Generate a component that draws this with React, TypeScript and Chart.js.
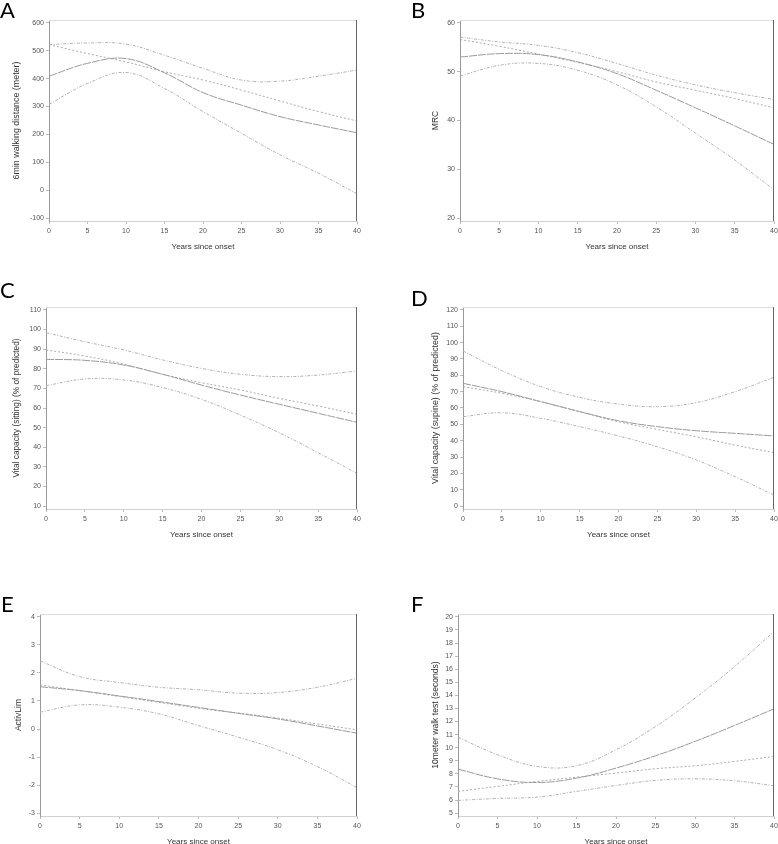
import React, { useEffect, useRef } from "react";
import { Chart, registerables } from "chart.js";
Chart.register(...registerables);

// ---------- data ----------
const years = [0, 5, 10, 15, 20, 25, 30, 35, 40];
const xTicks = [0, 5, 10, 15, 20, 25, 30, 35, 40];

// A: 6min walking distance
const aMain = [409, 455, 472, 421, 350, 305, 264, 234, 206];
const aLinear = [522, 490, 460, 425, 395, 359, 320, 282, 248];
const aUpper = [522, 528, 524, 484, 437, 395, 391, 409, 431];
const aLower = [308, 383, 422, 365, 282, 204, 127, 61, -13];
const aTicks = [-100, 0, 100, 200, 300, 400, 500, 600];

// B: MRC
const bMain = [53.0, 53.7, 53.5, 52.0, 49.6, 46.2, 42.6, 38.9, 35.1];
const bLinear = [56.6, 55.2, 53.6, 51.9, 50.0, 47.9, 46.2, 44.5, 42.6];
const bUpper = [57.1, 56.1, 55.4, 53.9, 51.7, 49.3, 47.3, 45.7, 44.3];
const bLower = [49.1, 51.3, 51.7, 50.3, 47.3, 42.8, 37.4, 31.9, 25.8];
const bTicks = [20, 30, 40, 50, 60];

// C: Vital capacity sitting
const cMain = [84.8, 84.3, 81.9, 77.2, 71.7, 66.6, 61.9, 57.3, 52.7];
const cLinear = [89.6, 86.5, 82.4, 77.2, 72.9, 69.2, 64.9, 61.0, 56.8];
const cUpper = [98.4, 93.8, 89.6, 84.5, 80.2, 77.2, 76.0, 76.8, 78.9];
const cLower = [71.4, 74.8, 74.3, 70.4, 64.4, 56.4, 47.4, 37.2, 26.7];
const cTicks = [10, 20, 30, 40, 50, 60, 70, 80, 90, 100, 110];

// D: Vital capacity supine
const dMain = [75.1, 70.0, 63.9, 57.8, 52.2, 48.6, 46.1, 44.5, 42.9];
const dLinear = [73.1, 69.0, 63.9, 57.8, 51.6, 46.9, 42.4, 37.3, 32.7];
const dUpper = [94.9, 82.9, 73.1, 66.5, 62.4, 60.8, 63.3, 70.0, 78.8];
const dLower = [54.7, 57.1, 53.7, 48.6, 42.9, 36.3, 28.2, 18.0, 6.7];
const dTicks = [0, 10, 20, 30, 40, 50, 60, 70, 80, 90, 100, 110, 120];

// E: ActivLim
const eMain = [1.51, 1.37, 1.18, 0.98, 0.77, 0.56, 0.36, 0.11, -0.15];
const eLinear = [1.57, 1.37, 1.16, 0.95, 0.74, 0.57, 0.39, 0.18, -0.03];
const eUpper = [2.43, 1.87, 1.66, 1.49, 1.4, 1.28, 1.3, 1.49, 1.81];
const eLower = [0.6, 0.86, 0.78, 0.54, 0.12, -0.29, -0.74, -1.34, -2.09];
const eTicks = [-3, -2, -1, 0, 1, 2, 3, 4];

// F: 10meter walk test
const fMain = [8.36, 7.62, 7.34, 7.67, 8.44, 9.38, 10.48, 11.7, 12.97];
const fLinear = [6.66, 7.04, 7.42, 7.75, 8.06, 8.39, 8.62, 8.95, 9.33];
const fUpper = [10.8, 9.46, 8.57, 8.62, 9.84, 11.62, 13.79, 16.2, 18.88];
const fLower = [5.97, 6.12, 6.22, 6.66, 7.11, 7.5, 7.62, 7.47, 7.09];
const fTicks = [5, 6, 7, 8, 9, 10, 11, 12, 13, 14, 15, 16, 17, 18, 19, 20];

const xTitle = "Years since onset";

type PanelCfg = {
  letter: string;
  letterPos: [number, number];
  box: [number, number, number, number];
  area: [number, number, number, number];
  yTitle: string;
  yTitleX: number;
  yTitleSize: number;
  yTicks: number[];
  series: number[][]; // main, linear, upper, lower
};

const panels: PanelCfg[] = [
  { letter: "A", letterPos: [0, -1], box: [0, 0, 389, 280], area: [49, 20, 357, 221], yTitle: "6min walking distance (meter)", yTitleX: 17, yTitleSize: 8.9, yTicks: aTicks, series: [aMain, aLinear, aUpper, aLower] },
  { letter: "B", letterPos: [411, -1], box: [389, 0, 389, 280], area: [460, 20, 774, 221], yTitle: "MRC", yTitleX: 436, yTitleSize: 8.5, yTicks: bTicks, series: [bMain, bLinear, bUpper, bLower] },
  { letter: "C", letterPos: [0, 279], box: [0, 280, 389, 280], area: [46, 307, 357, 509], yTitle: "Vital capacity (sitting) (% of predicted)", yTitleX: 17, yTitleSize: 8.3, yTicks: cTicks, series: [cMain, cLinear, cUpper, cLower] },
  { letter: "D", letterPos: [411, 287], box: [389, 280, 389, 280], area: [463, 307, 774, 509], yTitle: "Vital capacity (supine) (% of predicted)", yTitleX: 436, yTitleSize: 8.9, yTicks: dTicks, series: [dMain, dLinear, dUpper, dLower] },
  { letter: "E", letterPos: [1, 593], box: [0, 560, 389, 290], area: [40, 614, 357, 816], yTitle: "ActivLim", yTitleX: 19, yTitleSize: 8.5, yTicks: eTicks, series: [eMain, eLinear, eUpper, eLower] },
  { letter: "F", letterPos: [411, 593], box: [389, 560, 389, 290], area: [458, 614, 774, 816], yTitle: "10meter walk test (seconds)", yTitleX: 436, yTitleSize: 8.6, yTicks: fTicks, series: [fMain, fLinear, fUpper, fLower] },
];

const lineStyles = [
  { color: "#9a9a9a", dash: [8, 1] as number[] },
  { color: "#ababab", dash: [2, 2] },
  { color: "#b2b2b2", dash: [3, 1.5, 1, 1.5] },
  { color: "#b2b2b2", dash: [3, 1.5, 1, 1.5] },
];

const FONT = "'Liberation Sans', Arial, sans-serif";

const framePlugin = {
  id: "frame",
  afterDraw(chart: any) {
    const { ctx, chartArea } = chart;
    ctx.save();
    ctx.lineWidth = 1;
    ctx.strokeStyle = "#dddddd";
    ctx.beginPath();
    ctx.moveTo(chartArea.left, chartArea.top + 0.5);
    ctx.lineTo(chartArea.right, chartArea.top + 0.5);
    ctx.stroke();
    ctx.strokeStyle = "#666666";
    ctx.beginPath();
    ctx.moveTo(chartArea.right - 0.5, chartArea.top);
    ctx.lineTo(chartArea.right - 0.5, chartArea.bottom);
    ctx.stroke();
    ctx.restore();
  },
};

function Panel({ p }: { p: PanelCfg }) {
  const ref = useRef<HTMLCanvasElement>(null);
  useEffect(() => {
    const canvas = ref.current!;
    const [bx, by, W, H] = p.box;
    const left = p.area[0] - bx;
    const top = p.area[1] - by;
    const right = p.area[2] - bx;
    const bottom = p.area[3] - by;
    const yLH = p.yTitleSize * 1.2;
    const padLeft = p.yTitleX - bx - yLH / 2;
    const yWidth = left - padLeft;
    const xHeight = 31;
    const padBottom = H - bottom - xHeight;
    const t0 = p.yTicks[0];
    const t1 = p.yTicks[p.yTicks.length - 1];
    const pad = ((t1 - t0) * 2.9) / 195;

    const chart = new Chart(canvas, {
      type: "line",
      data: {
        datasets: p.series.map((s, i) => ({
          data: s.map((v, k) => ({ x: years[k], y: v })),
          borderColor: lineStyles[i].color,
          borderDash: lineStyles[i].dash,
          borderWidth: 1,
          pointRadius: 0,
          tension: 0.4,
          fill: false,
        })),
      },
      options: {
        animation: false,
        responsive: false,
        maintainAspectRatio: false,
        layout: { padding: { left: padLeft, top, right: W - right, bottom: padBottom } },
        plugins: { legend: { display: false }, tooltip: { enabled: false } },
        scales: {
          x: {
            type: "linear",
            min: 0,
            max: 40,
            afterBuildTicks: (a: any) => {
              a.ticks = xTicks.map((v) => ({ value: v }));
            },
            afterFit: (s: any) => {
              s.height = xHeight;
              s.paddingLeft = 0;
              s.paddingRight = 0;
            },
            grid: { drawOnChartArea: false, drawTicks: true, tickLength: 3, color: "#bbbbbb" },
            border: { display: true, color: "#d0d0d0" },
            ticks: { font: { family: FONT, size: 7 }, color: "#555", padding: 3, maxRotation: 0 },
            title: { display: true, text: xTitle, font: { family: FONT, size: 8 }, color: "#333", padding: 0 },
          },
          y: {
            type: "linear",
            min: t0 - pad,
            max: t1 + pad,
            afterBuildTicks: (a: any) => {
              a.ticks = p.yTicks.map((v) => ({ value: v }));
            },
            afterFit: (s: any) => {
              s.width = yWidth;
              s.paddingTop = 0;
              s.paddingBottom = 0;
            },
            grid: { drawOnChartArea: false, drawTicks: true, tickLength: 3, color: "#bbbbbb" },
            border: { display: true, color: "#9a9a9a" },
            ticks: { font: { family: FONT, size: 7 }, color: "#555", padding: 2 },
            title: { display: true, text: p.yTitle, font: { family: FONT, size: p.yTitleSize }, color: "#333", padding: 0 },
          },
        },
      },
      plugins: [framePlugin],
    } as any);
    return () => chart.destroy();
  }, []);

  return (
    <>
      <canvas
        ref={ref}
        width={p.box[2]}
        height={p.box[3]}
        style={{ position: "absolute", left: p.box[0], top: p.box[1], width: p.box[2], height: p.box[3] }}
      />
      <div
        style={{
          position: "absolute",
          left: p.letterPos[0],
          top: p.letterPos[1],
          fontFamily: "Lato, 'Open Sans', sans-serif",
          fontSize: 22,
          lineHeight: "22px",
          color: "#000",
        }}
      >
        {p.letter}
      </div>
    </>
  );
}

export default function App() {
  return (
    <div
      style={{
        position: "absolute",
        left: 0,
        top: 0,
        width: 778,
        height: 844,
        overflow: "hidden",
        background: "#fff",
      }}
    >
      {panels.map((p) => (
        <Panel key={p.letter} p={p} />
      ))}
    </div>
  );
}
